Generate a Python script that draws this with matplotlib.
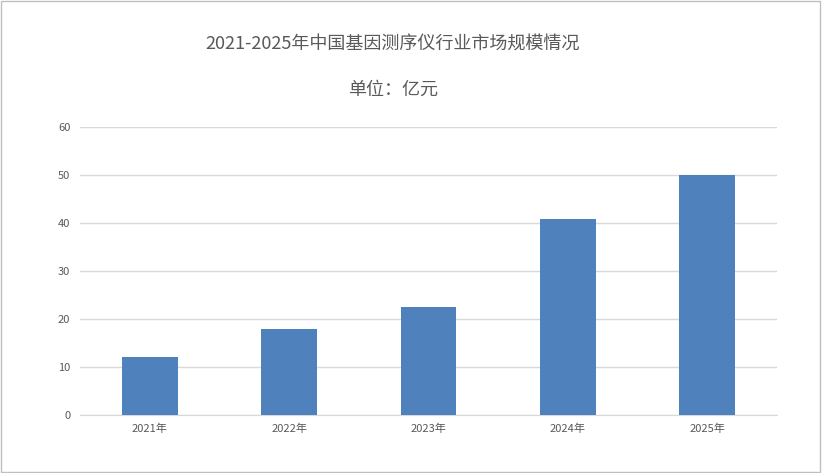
import matplotlib
matplotlib.use("Agg")
import matplotlib.pyplot as plt
from matplotlib.patches import Rectangle

# ==================== Data ====================
years = ["2021年", "2022年", "2023年", "2024年", "2025年"]
market_size = [12.1, 18.0, 22.6, 40.9, 49.9]
y_ticks = [0, 10, 20, 30, 40, 50, 60]

plt.rcParams["font.family"] = ["Noto Sans CJK SC", "DejaVu Sans"]

text_color = "#595959"
bar_color = "#4f81bd"
grid_color = "#d9d9d9"

fig = plt.figure(figsize=(8.22, 4.73), dpi=100)
fig.patch.set_facecolor("white")
# thin gray frame around the whole chart
fig.add_artist(Rectangle((0.001, 0.002), 0.997, 0.995, transform=fig.transFigure,
                         fill=False, edgecolor="#bfbfbf", linewidth=1))

ax = fig.add_axes([80 / 822, 1 - 415 / 473, 697 / 822, 288 / 473])

x = range(len(years))
ax.bar(x, market_size, width=0.4, color=bar_color, zorder=3)

ax.set_xlim(-0.5, len(years) - 0.5)
ax.set_ylim(0, 60)
ax.set_yticks(y_ticks)
ax.set_xticks(list(x))
ax.set_xticklabels(years)
ax.grid(axis="y", color=grid_color, linewidth=1, zorder=0)
for s in ["top", "right", "left"]:
    ax.spines[s].set_visible(False)
ax.spines["bottom"].set_color(grid_color)
ax.tick_params(axis="both", length=0, labelsize=8, colors=text_color)
ax.tick_params(axis="y", pad=7)
ax.tick_params(axis="x", pad=6)

title_x = 393 / 822
fig.text(title_x, 1 - 45 / 473, "2021-2025年中国基因测序仪行业市场规模情况",
         ha="center", va="center", fontsize=13, color=text_color)
fig.text(title_x, 1 - 90 / 473, "单位：亿元",
         ha="center", va="center", fontsize=13, color=text_color)

plt.savefig("out.png", dpi=100)
